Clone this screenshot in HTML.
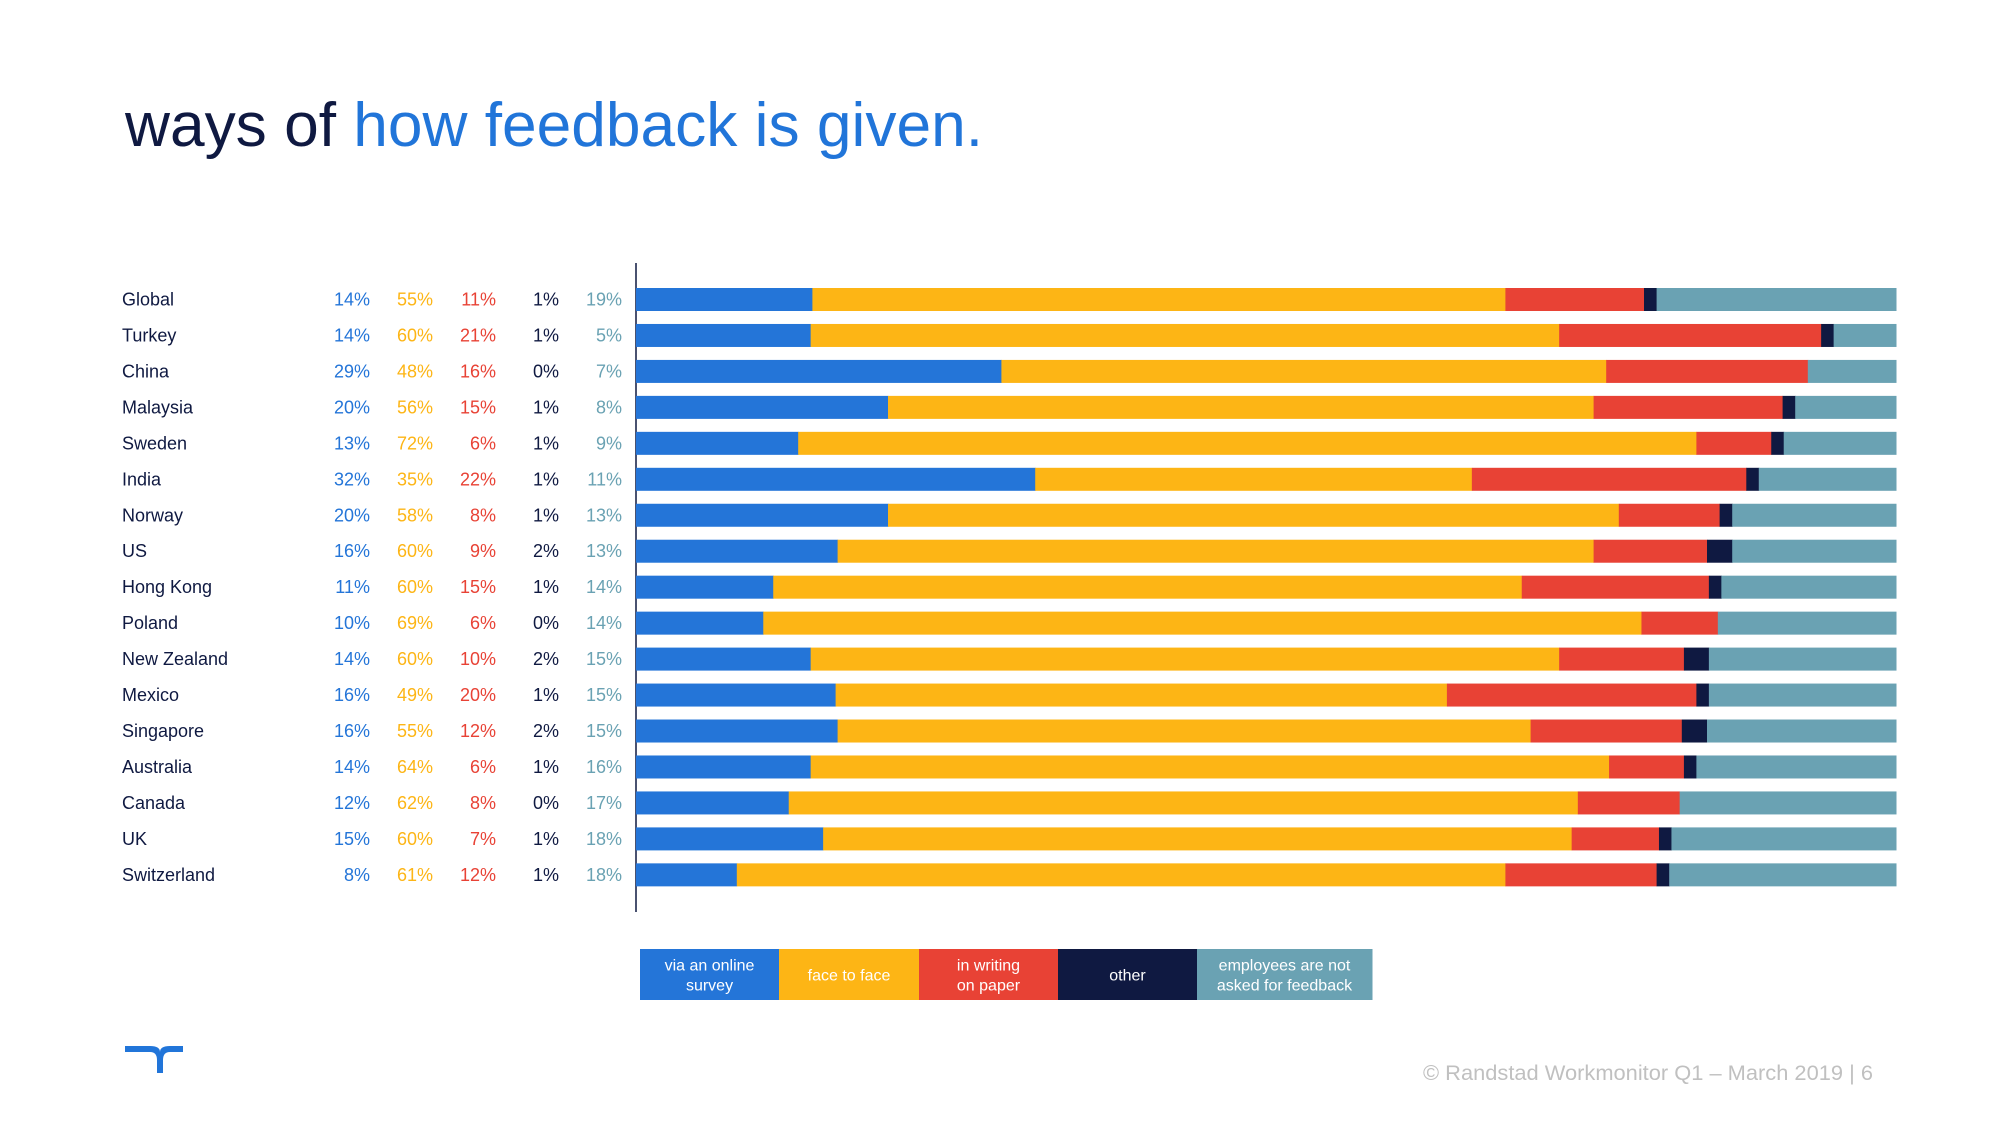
<!DOCTYPE html>
<html><head><meta charset="utf-8"><style>
html,body{margin:0;padding:0;background:#fff;}
svg{display:block;font-family:"Liberation Sans","DejaVu Sans",sans-serif;}
</style></head><body>
<svg id="c" width="2000" height="1125" viewBox="0 0 2000 1125" xmlns="http://www.w3.org/2000/svg">
<text x="125" y="146" font-size="62" fill="#0f1941" textLength="858" lengthAdjust="spacingAndGlyphs">ways of <tspan fill="#2175d9">how feedback is given.</tspan></text>
<line x1="636" y1="263" x2="636" y2="912" stroke="#0f1941" stroke-width="1.5"/>
<g id="rows"></g>
<g id="legend"></g>
<path d="M125 1052 H150 Q157 1052 157 1060 V1073 H163 V1060 Q163 1052 170 1052 H183 V1046 H170 Q160 1046 160 1052 Q160 1046 150 1046 H125 Z" fill="#2175d9"/>
<text x="1423" y="1080" font-size="21" fill="#c0c0c0" textLength="450" lengthAdjust="spacingAndGlyphs">© Randstad Workmonitor Q1 – March 2019 |    6</text>
</svg>
<script>
const countries=["Global","Turkey","China","Malaysia","Sweden","India","Norway","US","Hong Kong","Poland","New Zealand","Mexico","Singapore","Australia","Canada","UK","Switzerland"];
const online=[14,14,29,20,13,32,20,16,11,10,14,16,16,14,12,15,8];
const face=[55,60,48,56,72,35,58,60,60,69,60,49,55,64,62,60,61];
const writing=[11,21,16,15,6,22,8,9,15,6,10,20,12,6,8,7,12];
const other=[1,1,0,1,1,1,1,2,1,0,2,1,2,1,0,1,1];
const notAsked=[19,5,7,8,9,11,13,13,14,14,15,15,15,16,17,18,18];
const seriesNames=["via an online|survey","face to face","in writing|on paper","other","employees are not|asked for feedback"];
const colors=["#2475d8","#fdb515","#e84235","#0f1941","#6aa2b3"];
const labelColors=["#2475d8","#fdb515","#e84235","#0f1941","#6aa2b3"];
const NS="http://www.w3.org/2000/svg";
const x0=636,W=1260,y0=299.5,step=35.96,bh=23;
const colX=[370,433,496,559,622];
const series=[online,face,writing,other,notAsked];
const xs=v=>v/100*W;
const rowY=i=>y0+i*step;
const rows=document.getElementById('rows');
function mk(tag,attrs){const e=document.createElementNS(NS,tag);for(const k in attrs)e.setAttribute(k,attrs[k]);return e;}
countries.forEach((c,i)=>{
  const y=rowY(i);
  const t=mk('text',{x:122,y:y+6,'font-size':18,fill:'#0f1941'});
  t.textContent=c;
  
  
  rows.appendChild(t);
  const tot=series.reduce((s,a)=>s+a[i],0);
  let acc=0;
  series.forEach((arr,k)=>{
    const v=arr[i];
    const p=mk('text',{x:colX[k],y:y+6,'font-size':18,fill:labelColors[k],'text-anchor':'end'});
    p.textContent=v+'%';
    
    
    rows.appendChild(p);
    const w=xs(v/tot*100);
    if(w>0){
      const r=mk('rect',{x:x0+xs(acc/tot*100),y:y-bh/2,width:w+0.5,height:bh,fill:colors[k]});
      
      
      rows.appendChild(r);
    }
    acc+=v;
  });
});
const lg=document.getElementById('legend');
const lx=640,ly=949,lh=51;
const lws=[139,140,139,139,175];
let cx=lx;
seriesNames.forEach((n,k)=>{
  const lw=lws[k];
  const r=mk('rect',{x:cx,y:ly,width:lw+0.5,height:lh,fill:colors[k]});
  
  
  lg.appendChild(r);
  const lines=n.split('|');
  lines.forEach((ln,j)=>{
    const t=mk('text',{x:cx+lw/2,y:ly+lh/2+6+(j-(lines.length-1)/2)*20,'font-size':16,fill:'#fff','text-anchor':'middle'});
    t.textContent=ln;
    
    
    lg.appendChild(t);
  });
  cx+=lw;
});
</script>
</body></html>
